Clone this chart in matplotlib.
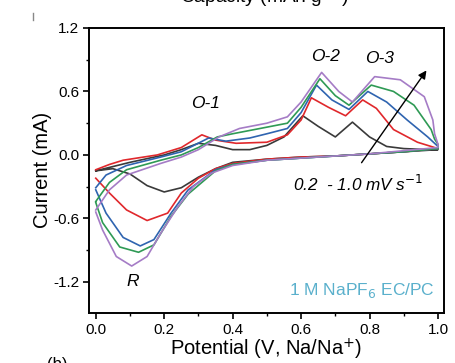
import matplotlib
matplotlib.use("Agg")
import matplotlib.pyplot as plt
from matplotlib.ticker import MultipleLocator

plt.rcParams['font.family'] = ['Liberation Sans', 'DejaVu Sans']

scan_rates = ["0.2", "0.4", "0.6", "0.8", "1.0"]
colors = ["#3a3a3a", "#e0282c", "#2f64b0", "#2f9a55", "#a57cc6"]

# anodic (upper) branches, potential from 0 to 1 V
up_v = [
    [0.0, 0.05, 0.1, 0.2, 0.25, 0.3, 0.35, 0.4, 0.45, 0.5, 0.55, 0.605, 0.65, 0.7, 0.75, 0.8, 0.85, 0.9, 0.97, 1.0],
    [0.0, 0.04, 0.08, 0.18, 0.25, 0.31, 0.35, 0.41, 0.5, 0.56, 0.6, 0.63, 0.68, 0.73, 0.78, 0.82, 0.87, 0.94, 0.98, 1.0],
    [0.0, 0.03, 0.09, 0.19, 0.25, 0.33, 0.38, 0.45, 0.5, 0.56, 0.6, 0.645, 0.69, 0.74, 0.795, 0.85, 0.91, 0.97, 0.99, 1.0],
    [0.0, 0.04, 0.09, 0.19, 0.25, 0.3, 0.355, 0.4, 0.48, 0.56, 0.6, 0.655, 0.7, 0.74, 0.805, 0.87, 0.93, 0.98, 0.99, 1.0],
    [0.0, 0.04, 0.09, 0.19, 0.25, 0.3, 0.36, 0.42, 0.5, 0.56, 0.6, 0.66, 0.71, 0.75, 0.815, 0.89, 0.96, 0.985, 0.99, 1.0],
]
up_i = [
    [-0.15, -0.11, -0.07, 0.0, 0.05, 0.11, 0.09, 0.05, 0.05, 0.09, 0.17, 0.37, 0.27, 0.17, 0.31, 0.17, 0.08, 0.06, 0.05, 0.05],
    [-0.14, -0.09, -0.05, 0.0, 0.07, 0.19, 0.14, 0.11, 0.12, 0.19, 0.33, 0.54, 0.45, 0.37, 0.52, 0.44, 0.24, 0.12, 0.08, 0.06],
    [-0.31, -0.19, -0.1, -0.02, 0.03, 0.16, 0.13, 0.16, 0.2, 0.25, 0.4, 0.66, 0.52, 0.43, 0.60, 0.5, 0.33, 0.17, 0.11, 0.08],
    [-0.44, -0.26, -0.14, -0.05, 0.0, 0.07, 0.17, 0.2, 0.25, 0.3, 0.45, 0.72, 0.56, 0.47, 0.66, 0.6, 0.47, 0.24, 0.15, 0.1],
    [-0.52, -0.33, -0.19, -0.08, -0.02, 0.05, 0.17, 0.25, 0.3, 0.36, 0.5, 0.78, 0.6, 0.5, 0.74, 0.71, 0.55, 0.33, 0.2, 0.1],
]

# cathodic (lower) branches, potential from 1 back to 0 V
low_v = [
    [1.0, 0.9, 0.8, 0.7, 0.6, 0.5, 0.4, 0.35, 0.3, 0.25, 0.2, 0.15, 0.1, 0.05, 0.0],
    [1.0, 0.9, 0.8, 0.7, 0.6, 0.5, 0.4, 0.35, 0.3, 0.25, 0.21, 0.15, 0.09, 0.04, 0.0],
    [1.0, 0.9, 0.8, 0.7, 0.6, 0.5, 0.4, 0.35, 0.27, 0.22, 0.17, 0.13, 0.08, 0.03, 0.0],
    [1.0, 0.9, 0.8, 0.7, 0.6, 0.5, 0.4, 0.35, 0.27, 0.22, 0.17, 0.125, 0.07, 0.02, 0.0],
    [1.0, 0.9, 0.8, 0.7, 0.6, 0.5, 0.4, 0.34, 0.285, 0.24, 0.19, 0.15, 0.105, 0.06, 0.02, 0.0],
]
low_i = [
    [0.05, 0.03, 0.01, -0.01, -0.02, -0.04, -0.07, -0.13, -0.21, -0.31, -0.35, -0.29, -0.18, -0.13, -0.15],
    [0.06, 0.03, 0.01, -0.01, -0.02, -0.04, -0.08, -0.13, -0.22, -0.36, -0.55, -0.62, -0.52, -0.36, -0.22],
    [0.06, 0.03, 0.01, -0.01, -0.03, -0.05, -0.09, -0.14, -0.33, -0.55, -0.80, -0.86, -0.78, -0.55, -0.33],
    [0.06, 0.03, 0.01, -0.01, -0.03, -0.05, -0.09, -0.15, -0.37, -0.58, -0.85, -0.92, -0.87, -0.64, -0.45],
    [0.07, 0.04, 0.01, -0.01, -0.03, -0.05, -0.10, -0.17, -0.30, -0.49, -0.74, -0.96, -1.05, -0.96, -0.71, -0.54],
]

peak_labels = ["O-1", "O-2", "O-3", "R"]
peak_v = [0.32, 0.67, 0.83, 0.108]
peak_i = [0.49, 0.93, 0.91, -1.2]

fig = plt.figure(figsize=(4.56, 3.63), dpi=100)
ax = fig.add_axes([0.195, 0.138, 0.779, 0.785])

for k in range(len(scan_rates)):
    v = up_v[k] + low_v[k]
    i = up_i[k] + low_i[k]
    ax.plot(v, i, color=colors[k], lw=1.2)

ax.set_xlim(-0.02, 1.018)
ax.set_ylim(-1.493, 1.2)
ax.xaxis.set_minor_locator(MultipleLocator(0.1))
ax.yaxis.set_minor_locator(MultipleLocator(0.3))
ax.set_xticks([0.0, 0.2, 0.4, 0.6, 0.8, 1.0])
ax.set_xticklabels(["0.0", "0.2", "0.4", "0.6", "0.8", "1.0"])
ax.set_yticks([-1.2, -0.6, 0.0, 0.6, 1.2])
ax.set_yticklabels(["-1.2", "-0.6", "0.0", "0.6", "1.2"])
ax.tick_params(which='major', direction='out', length=4, width=1.2, labelsize=11, pad=3)
ax.tick_params(which='minor', direction='out', length=2.5, width=1.0)
for s in ax.spines.values():
    s.set_linewidth(1.4)

ax.set_xlabel("Potential (V, Na/Na$^{+}$)", fontsize=14.5, labelpad=0)
ax.set_ylabel("Current (mA)", fontsize=14.5, labelpad=1)

for lab, x, y in zip(peak_labels, peak_v, peak_i):
    ax.text(x, y, lab, fontsize=12.5, style='italic', ha='center', va='center')

ax.annotate("", xy=(0.971, 0.82), xytext=(0.772, -0.095),
            arrowprops=dict(arrowstyle='-|>', color='black', lw=1.0, mutation_scale=12))
ax.text(0.766, -0.27, "0.2  - 1.0 mV s$^{-1}$", fontsize=12.3, style='italic',
        ha='center', va='center')
ax.text(0.99, -1.28, "1 M NaPF$_6$ EC/PC", fontsize=12.5, color='#5ab0cc',
        ha='right', va='center')

fig.text(265 / 456, 1 - 3 / 363, "Capacity (mAh g$^{-1}$)", fontsize=13.8,
         ha='center', va='baseline')
fig.text(57 / 456, 1 - 357 / 363, "(b)", fontsize=12, ha='center', va='top')
fig.add_artist(plt.Line2D([33 / 456, 33 / 456], [1 - 13 / 363, 1 - 20 / 363],
                          color='#888888', lw=1))

fig.savefig("out.png", dpi=100)
